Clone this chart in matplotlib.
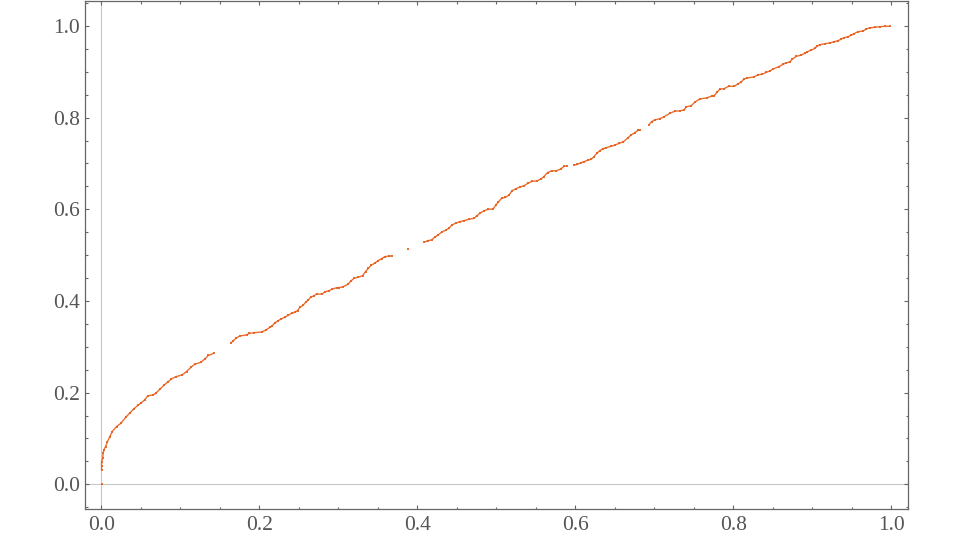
import numpy as np
import matplotlib
matplotlib.use("Agg")
import matplotlib.pyplot as plt
from matplotlib.ticker import MultipleLocator

# Pontos (nan = falha na curva)
x_vals = [
    0.0005, np.nan,
    0.0005, 0.0005, 0.0005, 0.002, 0.0025, 0.0034, 0.0055, 0.008, 0.011, 0.014,
    0.0195, 0.025, 0.031, 0.036, 0.041, 0.047, 0.051, 0.055, 0.059, 0.066,
    0.070, 0.074, 0.080, 0.085, 0.089, 0.095, 0.1025, 0.108, 0.1135, 0.1185,
    0.126, 0.131, 0.1355, 0.143, np.nan,
    0.164, 0.167, 0.171, 0.1755, 0.184, 0.187, 0.194, 0.203, 0.209, 0.2135,
    0.216, 0.2197, 0.224, 0.228, 0.232, 0.2366, 0.241, 0.245, 0.2485, 0.2514,
    0.2556, 0.2586, 0.262, 0.265, 0.2695, 0.2725, 0.2796, 0.283, 0.288, 0.292,
    0.298, 0.3007, 0.306, 0.312, 0.316, 0.320, 0.325, 0.3307, 0.3345, 0.338,
    0.342, 0.346, 0.3505, 0.3548, 0.359, 0.364, 0.368, np.nan,
    0.3877, np.nan,
    0.4087, 0.413, 0.418, 0.422, 0.4264, 0.4314, 0.4357, 0.44, 0.444, 0.4484,
    0.4538, 0.459, 0.465, 0.472, 0.475, 0.479, 0.4846, 0.4896, 0.496, 0.4994,
    0.5023, 0.5066, 0.5116, 0.516, 0.520, 0.5243, 0.5297, 0.535, 0.540, 0.5453,
    0.551, 0.5563, 0.560, 0.5648, 0.570, 0.576, 0.5816, 0.5858, 0.590, np.nan,
    0.5984, 0.6027, 0.607, 0.611, 0.6154, 0.6196, 0.623, 0.627, 0.631, 0.635,
    0.6394, 0.6449, 0.650, 0.6554, 0.6604, 0.666, 0.670, 0.675, 0.6794, 0.682,
    np.nan,
    0.6933, 0.6964, 0.7005, 0.7069, 0.7123,
    0.7195, 0.7258, 0.7322, 0.7376, 0.7406, 0.746,
    0.752, 0.7575,
    0.766, 0.7723, 0.7756, 0.7798, 0.7828, 0.7882, 0.794, 0.801, 0.806, 0.810,
    0.813, 0.8166,
    0.8258, 0.8312, 0.8363, 0.8418, 0.846, 0.850,
    0.8574, 0.8629, 0.867, 0.8713, 0.8747, 0.8798, 0.886, 0.890, 0.8937, 0.898,
    0.903, 0.906, 0.909, 0.9156, 0.922, 0.9274, 0.9324, 0.9358, 0.940, 0.945,
    0.9494, 0.9523, 0.9577, 0.964, 0.9675, 0.9725, 0.979, 0.985, 0.9915, 0.9978,
]
y_vals = [
    0.0, np.nan,
    0.031, 0.040, 0.049, 0.057, 0.068, 0.075, 0.082, 0.093, 0.104, 0.115,
    0.126, 0.133, 0.146, 0.155, 0.164, 0.173, 0.178, 0.184, 0.193, 0.195,
    0.200, 0.207, 0.217, 0.224, 0.230, 0.235, 0.2385, 0.246, 0.255, 0.262,
    0.266, 0.273, 0.281, 0.286, np.nan,
    0.308, 0.313, 0.319, 0.3236, 0.326, 0.329, 0.331, 0.332, 0.337, 0.3425,
    0.345, 0.352, 0.357, 0.361, 0.364, 0.3687, 0.373, 0.375, 0.379, 0.386,
    0.3906, 0.397, 0.402, 0.408, 0.4115, 0.415, 0.415, 0.420, 0.422, 0.4255,
    0.429, 0.429, 0.431, 0.436, 0.4436, 0.4495, 0.4517, 0.455, 0.464, 0.471,
    0.4785, 0.482, 0.488, 0.4923, 0.4966, 0.498, 0.498, np.nan,
    0.5128, np.nan,
    0.528, 0.5315, 0.533, 0.539, 0.544, 0.551, 0.554, 0.5586, 0.5658, 0.5695,
    0.573, 0.5752, 0.578, 0.5804, 0.5854, 0.591, 0.597, 0.600, 0.6007, 0.6094,
    0.6153, 0.624, 0.626, 0.631, 0.6407, 0.6443, 0.6487, 0.651, 0.657, 0.661,
    0.6618, 0.666, 0.671, 0.680, 0.684, 0.684, 0.688, 0.694, 0.6945, np.nan,
    0.6967, 0.698, 0.7017, 0.704, 0.707, 0.709, 0.7135, 0.722, 0.728, 0.7323,
    0.7345, 0.7375, 0.740, 0.744, 0.747, 0.755, 0.7615, 0.767, 0.7724, 0.773,
    np.nan,
    0.7847, 0.791, 0.795, 0.7977, 0.802,
    0.8095, 0.8139, 0.815, 0.8167, 0.824, 0.8254,
    0.8348, 0.8407,
    0.8429, 0.847, 0.848, 0.8566, 0.862, 0.8632, 0.8684, 0.8684, 0.874, 0.8778,
    0.8837, 0.8865,
    0.8887, 0.8938, 0.8946, 0.899, 0.9018, 0.906,
    0.9112, 0.9164, 0.920, 0.9214, 0.928, 0.934, 0.9367, 0.940, 0.944, 0.947,
    0.951, 0.9563, 0.959, 0.9614, 0.963, 0.9658, 0.968, 0.971, 0.9745, 0.9767,
    0.980, 0.9832, 0.9875, 0.989, 0.9927, 0.9963, 0.997, 0.9985, 0.9993, 0.9993,
]

cor_curva = "#e8601c"
cor_moldura = "#666666"
cor_texto = "#555555"

plt.rcParams["font.family"] = ["Liberation Serif", "DejaVu Serif"]

fig = plt.figure(figsize=(9.6, 5.4), dpi=100)
ax = fig.add_axes([0.0885, 0.0569, 0.857, 0.9413])

# eixos do Mathematica em x=0 e y=0
ax.axhline(0, color="#c8c8c8", lw=0.8, zorder=1)
ax.axvline(0, color="#c8c8c8", lw=0.8, zorder=1)

ax.plot(x_vals, y_vals, color=cor_curva, lw=1.0, alpha=0.9, marker="s", ms=1.5,
        mew=0, solid_capstyle="butt", zorder=3)

ax.set_xlim(-0.0205, 1.0205)
ax.set_ylim(-0.0546, 1.0546)

ax.xaxis.set_major_locator(MultipleLocator(0.2))
ax.yaxis.set_major_locator(MultipleLocator(0.2))
ax.xaxis.set_minor_locator(MultipleLocator(0.05))
ax.yaxis.set_minor_locator(MultipleLocator(0.05))
ax.xaxis.set_major_formatter(lambda v, p: f"{v:.1f}")
ax.yaxis.set_major_formatter(lambda v, p: f"{v:.1f}")

ax.tick_params(which="both", direction="in", top=True, right=True,
               color=cor_moldura, width=0.8, labelsize=15.5, labelcolor=cor_texto)
ax.tick_params(which="major", length=3.2)
ax.tick_params(which="minor", length=1.8)
ax.tick_params(axis="y", pad=3.5)
ax.tick_params(axis="x", pad=5)

for lado in ax.spines.values():
    lado.set_color(cor_moldura)
    lado.set_linewidth(0.9)

fig.savefig("out.png", dpi=100)
